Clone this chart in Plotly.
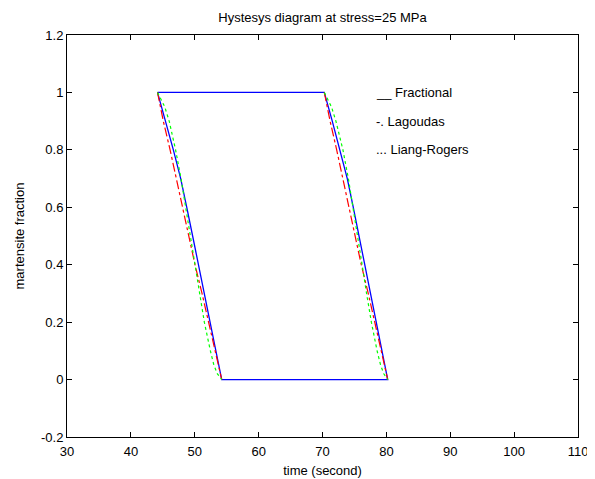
import plotly.graph_objects as go

# martensite fraction levels
frac_levels = [1.0, 0.9, 0.8, 0.7, 0.6, 0.5, 0.4, 0.3, 0.2, 0.1, 0.0]

# Fractional (blue solid) - time at each fraction level
frac_left_t  = [44.17, 45.42, 46.65, 47.80, 48.75, 49.67, 50.59, 51.53, 52.43, 53.33, 54.22]
frac_right_t = [70.28, 71.53, 72.75, 73.88, 74.82, 75.72, 76.62, 77.55, 78.43, 79.32, 80.21]

# Lagoudas (red dash-dot)
lag_left_t  = [44.17, 45.08, 46.14, 47.10, 48.09, 49.05, 50.04, 51.14, 52.20, 53.22, 54.22]
lag_right_t = [70.28, 71.19, 72.22, 73.17, 74.15, 75.10, 76.07, 77.16, 78.20, 79.21, 80.21]

# Liang-Rogers (green dotted)
lr_levels  = [1.0, 0.98, 0.95, 0.9, 0.8, 0.7, 0.6, 0.5, 0.4, 0.3, 0.2, 0.1, 0.05, 0.02, 0.0]
lr_left_t  = [44.17, 44.6, 45.3, 46.0, 47.0, 47.85, 48.6, 49.3, 50.0, 50.75, 51.5, 52.45, 53.0, 53.55, 54.22]
lr_right_t = [70.28, 70.7, 71.4, 72.1, 73.2, 74.05, 74.8, 75.5, 76.2, 76.9, 77.65, 78.55, 79.1, 79.6, 80.21]

legend_lines = ["__ Fractional", "-. Lagoudas", "... Liang-Rogers"]
legend_y = [1.0, 0.9, 0.8]
legend_x = 78.0

BLUE, RED, GREEN = "#0000FF", "#FF0000", "#00FF00"

fig = go.Figure()

# Fractional closed loop: top line -> right branch -> bottom line -> left branch up
loop_x = [frac_left_t[0]] + frac_right_t + list(reversed(frac_left_t))
loop_y = [1.0] + frac_levels + list(reversed(frac_levels))
fig.add_trace(go.Scatter(x=loop_x, y=loop_y, mode="lines",
                         line=dict(color=BLUE, width=1.3), name="Fractional"))

for xs in (lag_left_t, lag_right_t):
    fig.add_trace(go.Scatter(x=xs, y=frac_levels, mode="lines",
                             line=dict(color=RED, width=1.2, dash="dashdot"), name="Lagoudas"))
for xs in (lr_left_t, lr_right_t):
    fig.add_trace(go.Scatter(x=xs, y=lr_levels, mode="lines",
                             line=dict(color=GREEN, width=1.2, dash="dot"), name="Liang-Rogers"))

for txt, yy in zip(legend_lines, legend_y):
    fig.add_annotation(x=legend_x, y=yy, text=txt, showarrow=False,
                       xanchor="left", yanchor="middle",
                       font=dict(size=13, color="black"))

axis_common = dict(showgrid=False, zeroline=False, showline=True, linecolor="black",
                   linewidth=1, mirror="allticks", ticks="inside", ticklen=5,
                   tickcolor="black", tickfont=dict(size=13, color="black"),
                   automargin=False)

fig.update_xaxes(range=[30, 110], tickmode="array",
                 tickvals=[30, 40, 50, 60, 70, 80, 90, 100, 110],
                 ticklabelstandoff=2,
                 title=dict(text="time (second)", font=dict(size=13, color="black"), standoff=8),
                 **axis_common)
fig.update_yaxes(range=[-0.2, 1.2], tickmode="array",
                 tickvals=[-0.2, 0, 0.2, 0.4, 0.6, 0.8, 1, 1.2],
                 ticktext=["-0.2", "0", "0.2", "0.4", "0.6", "0.8", "1", "1.2"],
                 title=dict(text="martensite fraction", font=dict(size=13, color="black"), standoff=13),
                 **axis_common)

fig.update_layout(
    width=587, height=471,
    margin=dict(l=59, r=17, t=27, b=42, autoexpand=False),
    paper_bgcolor="white", plot_bgcolor="white",
    showlegend=False,
    font=dict(family="Liberation Sans, Arial, sans-serif", size=13, color="black"),
    title=dict(text="Hystesys diagram at stress=25 MPa", x=0.5, xanchor="center",
               xref="paper", y=1, yref="container", yanchor="top", pad=dict(t=5),
               font=dict(size=13, color="black")),
)

fig.write_html("out.html")
